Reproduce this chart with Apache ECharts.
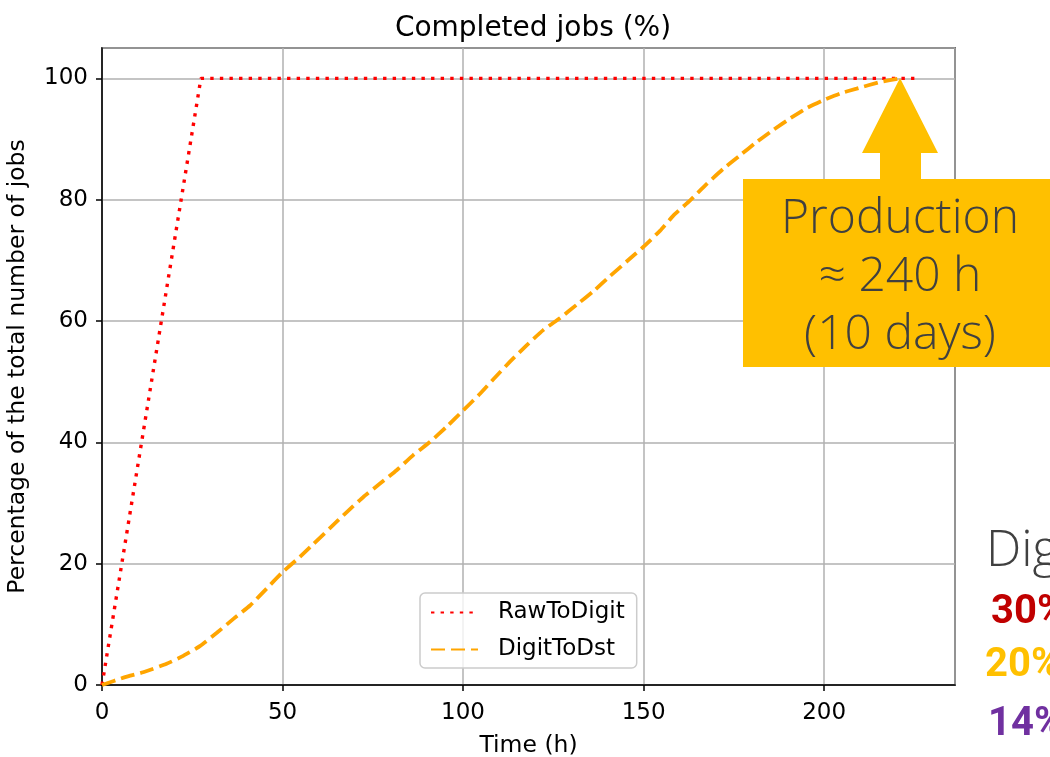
<!DOCTYPE html>
<html>
<head>
<meta charset="utf-8">
<script src="https://cdn.jsdelivr.net/npm/echarts@6/dist/echarts.min.js"></script>
<style>
html,body{margin:0;padding:0;background:#fff;}
#chart{width:1050px;height:757px;}
</style>
</head>
<body>
<div id="chart"></div>
<script>
// ---- data ----
const titleText = 'Completed jobs (%)';
const xName = 'Time (h)';
const yName = 'Percentage of the total number of jobs';
const seriesNames = ['RawToDigit', 'DigitToDst'];

const rawTime = [0, 27.4, 225];
const rawPct  = [0, 100, 100];

const dstTime = [0, 6.4, 11.4, 17.9, 22.5, 27.1, 31.8, 36.4, 41, 45.6, 50, 54.8, 58.5, 63.2, 67.8, 72.4, 77, 81.6, 86.2, 90.9, 95.5, 100.1, 104.7, 108.4, 113, 117.6, 122.2, 126.9, 131.5, 136.1, 140.7, 145.3, 149.9, 154.6, 158.3, 162.9, 167.5, 172.1, 176.7, 181.3, 185.9, 190.6, 195.2, 199.8, 204.4, 209, 215.5, 221];
const dstPct  = [0, 1.3, 2.1, 3.5, 4.8, 6.4, 8.6, 10.9, 13.1, 15.9, 18.6, 21.1, 23.2, 25.9, 28.5, 31.0, 33.2, 35.4, 37.9, 40.1, 42.6, 45.3, 48.0, 50.4, 53.3, 56.0, 58.5, 60.5, 62.7, 64.9, 67.4, 69.8, 72.2, 74.9, 77.4, 79.9, 82.6, 85.1, 87.3, 89.5, 91.5, 93.4, 95.1, 96.4, 97.5, 98.3, 99.4, 100];

const annotLines = ['Production', '≈ 240 h', '(10 days)'];
const sideWord = 'Dig';
const sidePcts = ['30%', '20%', '14%'];

const xMin = 0, xMax = 236.25, xInterval = 50;
const yMin = 0, yMax = 105, yInterval = 20;
// --------------------------------------

const zip = (a, b) => a.map((v, i) => [v, b[i]]);
const FONT = 'DejaVu Sans';
const ANNOT_FONT = '"Open Sans", Lato, sans-serif';

const chart = echarts.init(document.getElementById('chart'), null, {renderer: 'canvas'});

const axisCommon = {
  axisLine: {show: true, onZero: false, lineStyle: {color: '#000', width: 1.5}},
  axisTick: {show: true, inside: false, length: 6, lineStyle: {color: '#000', width: 1.5}},
  splitLine: {show: true, lineStyle: {color: '#b0b0b0', width: 1.5}},
  nameTextStyle: {fontFamily: FONT, fontSize: 23.5, color: '#000'},
};

chart.setOption({
  animation: false,
  backgroundColor: '#fff',
  title: {
    text: titleText, left: 528, top: 10, textAlign: 'center',
    textStyle: {fontFamily: FONT, fontSize: 28, fontWeight: 'normal', color: '#000'}
  },
  grid: {left: 102, top: 48, right: 95, bottom: 72, show: true, borderColor: '#000', borderWidth: 1.5,
         containLabel: false, outerBoundsMode: 'none'},
  xAxis: Object.assign({}, axisCommon, {
    type: 'value', min: xMin, max: xMax, interval: xInterval,
    name: xName, nameLocation: 'middle', nameGap: 49,
    axisLabel: {fontFamily: FONT, fontSize: 23, color: '#000', margin: 17, showMaxLabel: false}
  }),
  yAxis: Object.assign({}, axisCommon, {
    type: 'value', min: yMin, max: yMax, interval: yInterval,
    name: yName, nameLocation: 'middle', nameGap: 72,
    axisLabel: {fontFamily: FONT, fontSize: 23, color: '#000', margin: 14, showMaxLabel: false}
  }),
  legend: {
    orient: 'vertical', left: 420, top: 593,
    backgroundColor: 'rgba(255,255,255,0.8)', borderColor: '#cccccc', borderWidth: 1.5, borderRadius: 5,
    padding: [8, 12, 7, 10],
    itemWidth: 47, itemHeight: 14, itemGap: 14,
    itemStyle: {opacity: 0},
    textStyle: {fontFamily: FONT, fontSize: 23, color: '#000', padding: [0, 0, 0, 15]},
    data: seriesNames
  },
  series: [
    {
      name: seriesNames[0], type: 'line', data: zip(rawTime, rawPct),
      symbol: 'none', showSymbol: false, smooth: false,
      lineStyle: {color: '#ff0000', width: 3.4, type: [3.4, 6.2], cap: 'butt'},
      itemStyle: {color: '#ff0000'}
    },
    {
      name: seriesNames[1], type: 'line', data: zip(dstTime, dstPct),
      symbol: 'none', showSymbol: false, smooth: 0.15,
      lineStyle: {color: '#ffa500', width: 3.8, type: [14, 6], cap: 'butt'},
      itemStyle: {color: '#ffa500'}
    }
  ],
  graphic: [
    {type: 'rect', shape: {x: 743, y: 179, width: 320, height: 188}, style: {fill: '#FFC000'}, z: 100},
    {type: 'polygon', shape: {points: [[880, 181], [880, 153], [862, 153], [900, 78], [938, 153], [921, 153], [921, 181]]}, style: {fill: '#FFC000'}, z: 100},
    {type: 'text', x: 900, y: 219, style: {text: annotLines[0], fill: '#404040', fontFamily: ANNOT_FONT, fontSize: 48, fontWeight: 300, align: 'center', verticalAlign: 'middle'}, z: 101},
    {type: 'text', x: 900, y: 277, style: {text: annotLines[1], fill: '#404040', fontFamily: ANNOT_FONT, fontSize: 48, fontWeight: 300, align: 'center', verticalAlign: 'middle'}, z: 101},
    {type: 'text', x: 900, y: 335, style: {text: annotLines[2], fill: '#404040', fontFamily: ANNOT_FONT, fontSize: 48, fontWeight: 300, align: 'center', verticalAlign: 'middle'}, z: 101},
    {type: 'text', x: 986, y: 552, style: {text: sideWord, fill: '#404040', fontFamily: ANNOT_FONT, fontSize: 50, fontWeight: 300, align: 'left', verticalAlign: 'middle'}, z: 101},
    {type: 'text', x: 991, y: 613, style: {text: sidePcts[0], fill: '#C00000', font: 'bold 40px Roboto', align: 'left', verticalAlign: 'middle'}, z: 101},
    {type: 'text', x: 985, y: 666, style: {text: sidePcts[1], fill: '#FFC000', font: 'bold 40px Roboto', align: 'left', verticalAlign: 'middle'}, z: 101},
    {type: 'text', x: 988, y: 725, style: {text: sidePcts[2], fill: '#7030A0', font: 'bold 40px Roboto', align: 'left', verticalAlign: 'middle'}, z: 101}
  ]
});
</script>
</body>
</html>
